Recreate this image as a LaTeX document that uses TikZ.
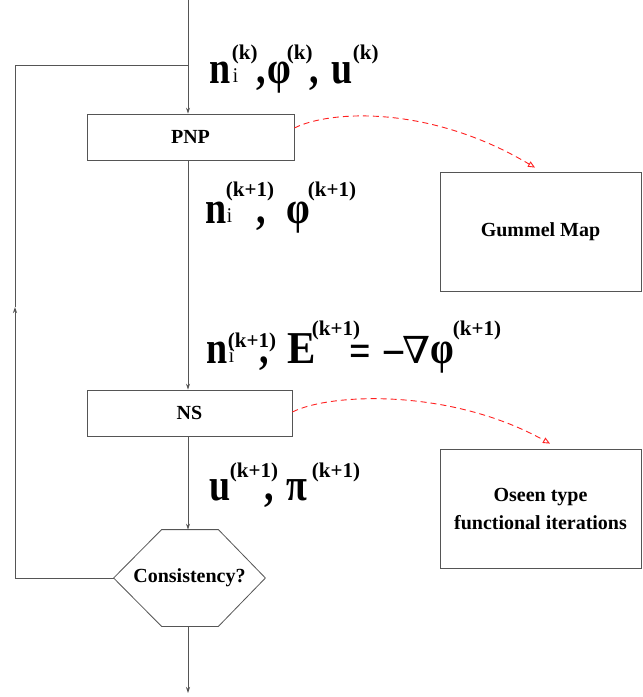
\documentclass[tikz,border=0pt]{standalone}
\usepackage{fontspec}
\setmainfont{Liberation Serif}
\newfontfamily\nablafont{DejaVu Serif}
\usetikzlibrary{arrows.meta}
\definecolor{ln}{HTML}{555555}
\definecolor{dred}{HTML}{FF2020}
\newcommand{\SupF}{\fontsize{20}{22}\selectfont\bfseries}
\newcommand{\SubF}{\fontsize{19}{21}\selectfont\mdseries}
\newcommand{\LabF}{\fontsize{38}{42}\selectfont\bfseries}
% place a main-size piece at horizontal offset #1 and raise #2 (pt), stretched vertically
\newcommand{\At}[3]{\rlap{\hspace{#1pt}\raisebox{#2pt}{\scalebox{1}[1.2]{#3}}}}
% place a superscript piece
\newcommand{\Sup}[3]{\rlap{\hspace{#1pt}\raisebox{#2pt}{\scalebox{1.05}[1.05]{\SupF #3}}}}
\newcommand{\Sub}[2]{\rlap{\hspace{#1pt}\raisebox{0.5pt}{\scalebox{1}[1.1]{\SubF i}}}}
\begin{document}
\begin{tikzpicture}[x=1pt,y=-1pt,line width=0.8pt,
  arr/.style={draw=ln,-{Stealth[length=6pt,width=4pt]}},
  plain/.style={draw=ln},
  boxnode/.style={draw=ln,rectangle,inner sep=0pt,font=\fontsize{20}{28}\selectfont\bfseries,align=center},
  red link/.style={draw=dred,dash pattern=on 6pt off 4pt,line width=0.9pt,-{Triangle[open,length=7pt,width=6pt]}},
  lab/.style={anchor=base west,inner sep=0pt,font=\LabF}]
\useasboundingbox (0,0) rectangle (643,697);

% boxes
\node[boxnode,minimum width=207pt,minimum height=46pt] (pnp) at (190.5,137) {PNP};
\node[boxnode,minimum width=205pt,minimum height=46pt] (ns) at (189.5,413) {NS};
\node[boxnode,minimum width=201pt,minimum height=119pt] (gum) at (540.5,231.5) {Gummel Map};
\node[boxnode,minimum width=201pt,minimum height=119pt] (os) at (540.5,508.5) {Oseen type\\functional iterations};
\node[inner sep=0pt,minimum width=151pt,minimum height=96pt,font=\fontsize{20}{24}\selectfont\bfseries] (cons) at (189.5,578) {Consistency?};
\draw[plain] (cons.west) -- ([xshift=48pt]cons.north west) -- ([xshift=-47pt]cons.north east)
  -- (cons.east) -- ([xshift=-47pt]cons.south east) -- ([xshift=48pt]cons.south west) -- cycle;

% main flow
\coordinate (top) at (188,0);
\coordinate (bot) at (188,693);
\coordinate (join) at (188,65);
\coordinate (loopup) at (15,307);
\draw[arr] (top) -- (top |- pnp.north);
\draw[arr] (top |- pnp.south) -- (top |- ns.north);
\draw[arr] (top |- ns.south) -- (top |- cons.north);
\draw[arr] (top |- cons.south) -- (bot);

% feedback loop
\draw[arr] (cons.west) -| (loopup);
\draw[plain] (loopup) |- (join);

% red dashed links
\draw[red link] ([yshift=9pt]pnp.east) .. controls (330,110) and (430,105) .. ([xshift=-5.5pt,yshift=4pt]gum.north);
\draw[red link] ([yshift=1pt]ns.east) .. controls (330,393) and (450,388) .. ([xshift=9.5pt,yshift=5pt]os.north);

% labels
\node[lab] (l1) at (209,83) {\At{0}{0}{n}\Sup{22}{24}{(k)}\Sub{23}{i}\At{47}{0}{,}%
  \At{58}{0}{φ}\Sup{77}{24}{(k)}\At{100}{0}{,}\At{122}{0}{u}\Sup{143}{24}{(k)}\hspace{168pt}};
\node[lab] (l2) at (205,223) {\At{0}{0}{n}\Sup{20}{27}{(k+1)}\Sub{21}{i}\At{51}{0}{,}%
  \At{81}{0}{φ}\Sup{102}{27}{(k+1)}\hspace{150pt}};
\node[lab] (l3) at (206,363) {\At{0}{0}{n}\Sup{21}{16}{(k+1)}\Sub{22}{i}\At{53}{0}{,}%
  \At{81}{0}{\scalebox{1.12}[1]{E}}\Sup{105}{28}{(k+1)}\At{143}{-3}{=}\At{178}{0}{–}%
  \At{196}{0}{\scalebox{1.3}[1]{\nablafont\mdseries\fontsize{31}{34}\selectfont ∇}}\At{224}{0}{φ}\Sup{246}{28}{(k+1)}\hspace{291pt}};
\node[lab] (l4) at (209,500) {\At{0}{0}{u}\Sup{20}{23}{(k+1)}\At{55}{0}{,}%
  \At{77}{0}{π}\Sup{102}{23}{(k+1)}\hspace{148pt}};
\end{tikzpicture}
\end{document}
